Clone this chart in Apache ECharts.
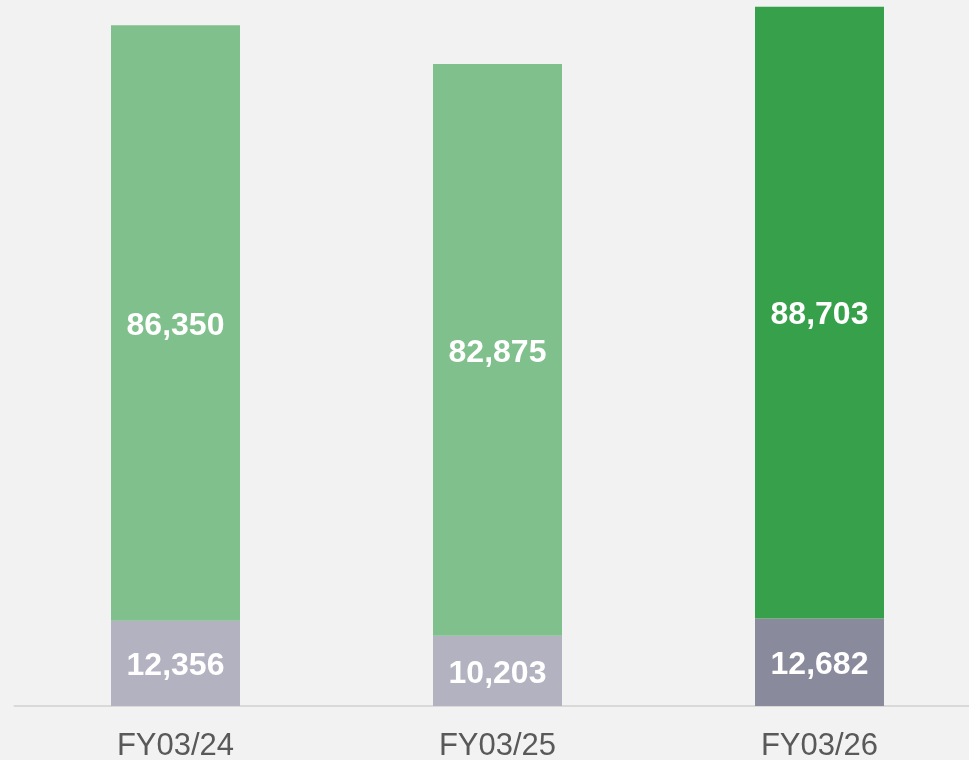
<!DOCTYPE html>
<html>
<head>
<meta charset="utf-8">
<script src="https://cdn.jsdelivr.net/npm/echarts@6/dist/echarts.min.js"></script>
<style>
    html, body { margin: 0; padding: 0; background: #f2f2f2; }
    #chart { width: 969px; height: 760px; }
</style>
</head>
<body>
<div id="chart"></div>
<script>
const categories = ['FY03/24', 'FY03/25', 'FY03/26'];
const lowerValues = [12356, 10203, 12682];
const upperValues = [86350, 82875, 88703];

// last bar is the forecast, drawn darker
const lowerColors = ['#b3b2c0', '#b3b2c0', '#898a9c'];
const upperColors = ['#80c08c', '#80c08c', '#36a04a'];

const myChart = echarts.init(document.getElementById('chart'));

const label = {
    show: true,
    position: 'inside',
    offset: [0, 3],
    color: '#ffffff',
    fontFamily: 'Liberation Sans, Arial, sans-serif',
    fontWeight: 'bold',
    fontSize: 32,
    formatter: (p) => p.value.toLocaleString('en-US')
};

const option = {
    backgroundColor: '#f2f2f2',
    animation: false,
    grid: {
        left: 14.5,
        width: 966,
        top: 2.5,
        bottom: 54,
        outerBoundsMode: 'none'
    },
    xAxis: {
        type: 'category',
        data: categories,
        axisTick: { show: false },
        axisLine: { lineStyle: { color: '#d9d9d9', width: 2 } },
        axisLabel: {
            color: '#595959',
            fontFamily: 'Liberation Sans, Arial, sans-serif',
            fontSize: 31,
            margin: 25
        }
    },
    yAxis: {
        type: 'value',
        min: 0,
        max: 102000,
        show: false,
        splitLine: { show: false }
    },
    series: [
        {
            name: 'lower',
            type: 'bar',
            stack: 'total',
            barWidth: 129,
            label: label,
            data: lowerValues.map((v, i) => ({ value: v, itemStyle: { color: lowerColors[i] } }))
        },
        {
            name: 'upper',
            type: 'bar',
            stack: 'total',
            barWidth: 129,
            label: label,
            data: upperValues.map((v, i) => ({ value: v, itemStyle: { color: upperColors[i] } }))
        }
    ]
};

myChart.setOption(option);
</script>
</body>
</html>
